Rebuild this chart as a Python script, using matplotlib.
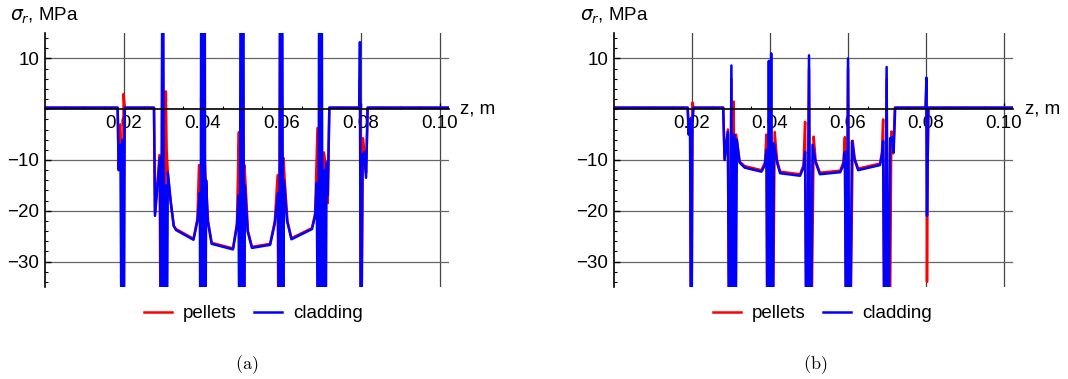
import numpy as np
import matplotlib
matplotlib.use("Agg")
import matplotlib.pyplot as plt
from matplotlib.ticker import MultipleLocator, FixedLocator

plt.rcParams['font.family'] = ['Liberation Sans', 'DejaVu Sans']
plt.rcParams['font.size'] = 13.5

# panel (a): z in m, sigma_r in MPa (values off scale written as +-60)
za_pel = [0, 0.0184, 0.01865, 0.0191, 0.0194, 0.0196, 0.0199, 0.0202,
          0.0276, 0.02785, 0.0290, 0.0294, 0.0298, 0.0302, 0.0306, 0.0308, 0.0311, 0.0318, 0.0326, 0.0332,
          0.0376, 0.0386, 0.0390, 0.0393, 0.0395, 0.0398, 0.0401, 0.0404, 0.0407, 0.0413, 0.0422,
          0.0476, 0.0486, 0.0491, 0.0494, 0.0498, 0.0502, 0.0505, 0.0508, 0.0514, 0.0524,
          0.0570, 0.0582, 0.0589, 0.0592, 0.0596, 0.0600, 0.0604, 0.0607, 0.0614, 0.0624,
          0.0676, 0.0684, 0.0690, 0.0693, 0.0697, 0.0701, 0.0706, 0.0709, 0.0713, 0.0716, 0.0720,
          0.0796, 0.07975, 0.0800, 0.0805, 0.0809, 0.0813, 0.0817, 0.1023]
sa_pel = [0.3, 0.3, -11.5, -3, -13, -60, 3, 0.3,
          0.3, -20.5, -9, -60, 40, -60, 3.5, -8, -12.5, -18, -23, -23.6,
          -25.5, -21.5, -11, -21.5, -60, 40, -60, -9.5, -14, -22, -26.3,
          -27.4, -22.5, -4.5, -60, 40, -60, -11, -15, -24, -27.1,
          -26.5, -22, -13, -60, 40, -60, -9.6, -14, -22, -25.4,
          -23.4, -20.5, -3.7, -60, 40, -60, -8.5, -10, -14, -18.5, 0.3,
          0.3, 6, -60, -5.7, -9, -12.5, 0.3, 0.3]

za_clad = [0, 0.0184, 0.01865, 0.0191, 0.01945, 0.0197, 0.0199, 0.0202,
           0.0276, 0.02785, 0.0291, 0.0294, 0.0298, 0.0302, 0.0305, 0.0308, 0.0311, 0.0318, 0.0326, 0.0332,
           0.0376, 0.0386, 0.0392, 0.0394, 0.0396, 0.0398, 0.0400, 0.0402, 0.0404, 0.0406, 0.0408, 0.0412, 0.0422,
           0.0476, 0.0486, 0.0490, 0.0493, 0.0496, 0.0499, 0.0502, 0.0504, 0.0506, 0.0513, 0.0524,
           0.0570, 0.0582, 0.0590, 0.0593, 0.0596, 0.0598, 0.0600, 0.0603, 0.0605, 0.0613, 0.0624,
           0.0676, 0.0684, 0.0688, 0.0692, 0.0695, 0.0698, 0.0700, 0.0703, 0.0707, 0.0710, 0.0713, 0.0716, 0.0720,
           0.0796, 0.07975, 0.0800, 0.0804, 0.0808, 0.0813, 0.0817, 0.1023]
sa_clad = [0.3, 0.3, -12, -7, -60, -6, -60, 0.3,
           0.3, -21, -9.5, -60, 60, -60, -15, -60, -12.5, -18, -23, -23.8,
           -25.7, -22, -16.5, -60, 60, -60, 60, -60, 60, -60, -14, -22, -26.5,
           -27.6, -23, -17, -60, 60, -60, 60, -60, -15, -24, -27.3,
           -26.7, -22.5, -16.5, -60, 60, -60, 60, -60, -14, -22, -25.6,
           -23.6, -21, -14.5, -60, 60, -60, 60, -60, -12, -60, -10.5, -17, 0.3,
           0.3, 13.2, -60, -9, -8.5, -13.5, 0.3, 0.3]

# panel (b)
zb_pel = [0, 0.0189, 0.01915, 0.0195, 0.0198, 0.0201, 0.0204,
          0.0280, 0.02835, 0.0292, 0.0296, 0.0301, 0.0304, 0.0307, 0.0310, 0.0313, 0.0322, 0.0335, 0.0378,
          0.0387, 0.0391, 0.0394, 0.0400, 0.0406, 0.0412, 0.0418, 0.0426, 0.0477,
          0.0486, 0.0490, 0.0494, 0.0500, 0.0504, 0.0512, 0.0517, 0.0528, 0.0580,
          0.0588, 0.0592, 0.0596, 0.0600, 0.0604, 0.0612, 0.0617, 0.0626, 0.0682,
          0.0687, 0.0690, 0.0694, 0.0699, 0.0703, 0.0706, 0.0711, 0.0716, 0.0720,
          0.0799, 0.0801, 0.08025, 0.0804, 0.0806, 0.1023]
sb_pel = [0.3, 0.3, -4.5, -2, -60, 1.3, 0.3,
          0.3, -9.7, -4, -60, 6, -60, 1.5, -60, -5, -10.3, -11.2, -12,
          -10.5, -5, -60, 8, -60, -4.5, -10, -12.3, -12.8,
          -11, -2.5, -60, 8, -60, -5.4, -10.2, -12.5, -12.1,
          -10.5, -5.5, -60, 8, -60, -6.2, -9.7, -11.7, -10.7,
          -8.5, -2, -60, 6, -60, -60, -4.4, -8.7, 0.3,
          0.3, 5, -34, -11.5, 0.3, 0.3]

zb_clad = [0, 0.0189, 0.01915, 0.0195, 0.0198, 0.0201, 0.0204,
           0.0280, 0.02835, 0.0292, 0.0296, 0.0301, 0.0304, 0.0308, 0.0311, 0.0315, 0.0322, 0.0335, 0.0378,
           0.0387, 0.0391, 0.0394, 0.0397, 0.0400, 0.0403, 0.0406, 0.0410, 0.0418, 0.0426, 0.0477,
           0.0486, 0.0490, 0.0494, 0.0500, 0.0504, 0.0509, 0.0517, 0.0528, 0.0580,
           0.0588, 0.0592, 0.0596, 0.0600, 0.0604, 0.0610, 0.0617, 0.0626, 0.0682,
           0.0687, 0.0690, 0.0694, 0.0699, 0.0703, 0.0708, 0.0713, 0.0717, 0.0721,
           0.0799, 0.0801, 0.08025, 0.0804, 0.0806, 0.1023]
sb_clad = [0.3, 0.3, -5, -2, -60, -3, 0.3,
           0.3, -10, -4.5, -60, 8.6, -60, -5, -60, -6, -10.5, -11.5, -12.3,
           -11, -8, -60, 9.5, -60, 11, -60, -6.7, -10.5, -12.6, -13.1,
           -11.5, -8.4, -60, 10.6, -60, -7, -10.5, -12.8, -12.4,
           -11, -8.4, -60, 10, -60, -6.3, -10, -12, -11,
           -9, -6.3, -60, 8.3, -60, -5.7, -5.5, -8.5, 0.3,
           0.3, 6.2, -21, -11.5, 0.3, 0.3]

x_major = [0.02, 0.04, 0.06, 0.08, 0.10]
x_labels = ["0.02", "0.04", "0.06", "0.08", "0.10"]
y_major = [10, -10, -20, -30]

fig = plt.figure(figsize=(10.68, 3.79), dpi=100)


def draw_panel(rect, z_pel, s_pel, z_clad, s_clad, zlab_x, ylab_x, leg_x, cap_x, cap):
    ax = fig.add_axes(rect)
    ax.set_xlim(0, 0.1023)
    ax.set_ylim(-35, 15)
    for g in x_major:
        ax.axvline(g, color='#444444', lw=0.9, zorder=1)
    for g in y_major:
        ax.axhline(g, color='#666666', lw=0.9, zorder=1)
    p1, = ax.plot(z_pel, s_pel, color='#ff0000', lw=1.8, zorder=3, label='pellets')
    p2, = ax.plot(z_clad, s_clad, color='#0000ff', lw=1.8, zorder=4, label='cladding')

    ax.spines['top'].set_visible(False)
    ax.spines['right'].set_visible(False)
    ax.spines['bottom'].set_position(('data', 0))
    ax.spines['bottom'].set_zorder(5)
    ax.spines['left'].set_zorder(5)
    for s in ('left', 'bottom'):
        ax.spines[s].set_linewidth(1.2)

    ax.xaxis.set_major_locator(FixedLocator(x_major))
    ax.set_xticklabels(x_labels)
    ax.xaxis.set_minor_locator(MultipleLocator(0.005))
    ax.yaxis.set_major_locator(FixedLocator(y_major))
    ax.set_yticklabels(["10", "\u221210", "\u221220", "\u221230"])
    ax.yaxis.set_minor_locator(MultipleLocator(2))
    ax.tick_params(which='major', direction='in', length=4, width=1, labelsize=13.5)
    ax.tick_params(which='minor', direction='in', length=2.5, width=0.8)
    ax.tick_params(axis='x', pad=4)
    ax.tick_params(axis='y', pad=4)

    ax.text(zlab_x, 0, "z, m", transform=ax.get_yaxis_transform(), ha='left', va='center', fontsize=13.5)
    fig.text(ylab_x, 0.958, r"$\sigma_r$, MPa", ha='left', va='center', fontsize=13.5)
    fig.legend(handles=[p1, p2], loc='center', bbox_to_anchor=(leg_x, 0.172), ncol=2,
               frameon=False, fontsize=13.5, handlelength=1.5, handletextpad=0.6,
               columnspacing=0.9)
    fig.text(cap_x, 0.037, cap, ha='center', va='center', fontsize=13, math_fontfamily='cm')
    return ax


draw_panel([45 / 1068, 1 - 287 / 379, 404 / 1068, 254 / 379], za_pel, sa_pel, za_clad, sa_clad,
           1.027, 10 / 1068, 0.237, 0.231, r"$\mathrm{(a)}$")
draw_panel([614 / 1068, 1 - 287 / 379, 399 / 1068, 254 / 379], zb_pel, sb_pel, zb_clad, sb_clad,
           1.03, 580 / 1068, 0.770, 0.763, r"$\mathrm{(b)}$")

fig.savefig("out.png", dpi=100)
